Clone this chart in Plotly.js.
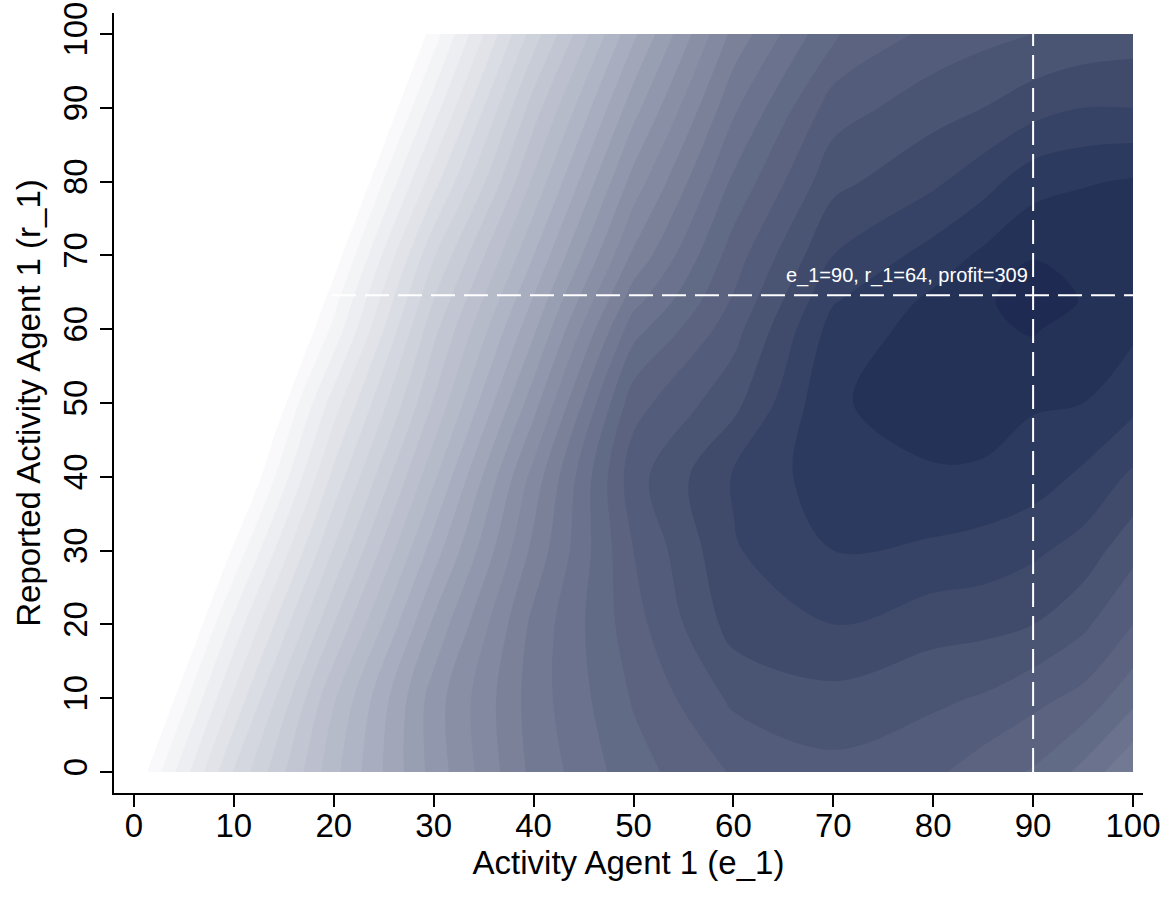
<!DOCTYPE html>
<html>
<head>
<meta charset="utf-8">
<script src="https://cdn.plot.ly/plotly-3.0.1.min.js"></script>
<style>
  html, body { margin: 0; padding: 0; background: #ffffff; }
  #chart { width: 1169px; height: 897px; }
</style>
</head>
<body>
<div id="chart"></div>
<script>
// ---- data ----
const eValues = [0, 10, 20, 30, 40, 50, 60, 70, 80, 85, 90, 95, 100];
const rValues = [0, 10, 20, 30, 40, 50, 60, 64, 70, 80, 90, 100];

const profitR0   = [-9, 61, 117, 164, 203, 226, 241, 247, 242, 235, 229, 217, 201];
const profitR10  = [-28, 42, 109, 165, 205, 231, 252, 257, 252, 249, 243, 237, 223];
const profitR20  = [-47, 23, 90, 152, 203, 236, 264, 270, 264, 263, 260, 252, 240];
const profitR30  = [-66, 2, 71, 135, 193, 240, 269, 280, 278, 276, 272, 266, 253];
const profitR40  = [-85, -20, 53, 118, 184, 246, 271, 286, 289, 288, 285, 278, 268];
const profitR50  = [-104, -36, 35, 101, 166, 236, 257, 289, 294, 296, 291, 290, 283];
const profitR60  = [-123, -55, 13, 87, 148, 216, 246, 284, 294, 298, 301, 295, 292];
const profitR64  = [-131, -62, 6, 80, 141, 206, 241, 279, 292, 297, 309, 299, 294];
const profitR70  = [-142, -74, -6, 69, 130, 192, 235, 270, 284, 292, 299, 300, 296];
const profitR80  = [-161, -93, -25, 46, 112, 174, 222, 257, 268, 276, 286, 289, 291];
const profitR90  = [-180, -112, -44, 25, 95, 156, 208, 245, 256, 260, 266, 270, 270];
const profitR100 = [-199, -131, -63, 5, 75, 138, 193, 229, 243, 247, 250, 253, 255];

// edge of the feasible region (left of it nothing is drawn)
const feasibleEdgeE = [1.3, 29.2];
const feasibleEdgeR = [0, 100];

// optimum marked on the chart
const optE = 90;
const optR = 64.6;
const optProfit = 309;
const optLabel = 'e_1=90, r_1=64, profit=309';

const xTickVals = [0, 10, 20, 30, 40, 50, 60, 70, 80, 90, 100];
const yTickVals = [0, 10, 20, 30, 40, 50, 60, 70, 80, 90, 100];

// ---- build ----
const profitGrid = [profitR0, profitR10, profitR20, profitR30, profitR40, profitR50,
                    profitR60, profitR64, profitR70, profitR80, profitR90, profitR100];

const xRange = [-2, 101];
const yRange = [-2.85, 102.85];

// mask polygon left of the feasible edge, extended to the axis range
const slope = (feasibleEdgeE[1] - feasibleEdgeE[0]) / (feasibleEdgeR[1] - feasibleEdgeR[0]);
const edgeAt = r => feasibleEdgeE[0] + slope * (r - feasibleEdgeR[0]);
const maskX = [xRange[0], edgeAt(yRange[0]), edgeAt(yRange[1]), xRange[0], xRange[0]];
const maskY = [yRange[0], yRange[0], yRange[1], yRange[1], yRange[0]];

const font = 'Liberation Sans, Arial, Helvetica, sans-serif';

const contour = {
  type: 'contour',
  x: eValues,
  y: rValues,
  z: profitGrid,
  autocontour: false,
  contours: { start: 0, end: 300, size: 10, coloring: 'fill', showlines: false },
  line: { width: 0, smoothing: 1 },
  colorscale: [
    [0, '#ffffff'],
    [0.42, '#b0b5c5'],
    [0.806, '#535c7a'],
    [0.968, '#243258'],
    [1, '#1e2a52']
  ],
  showscale: false,
  hoverinfo: 'skip'
};

const mask = {
  type: 'scatter',
  mode: 'lines',
  x: maskX,
  y: maskY,
  fill: 'toself',
  fillcolor: '#ffffff',
  line: { width: 0, color: '#ffffff' },
  hoverinfo: 'skip',
  showlegend: false
};

const eMin = Math.min(...eValues), eMax = Math.max(...eValues);
const rMin = Math.min(...rValues), rMax = Math.max(...rValues);

const layout = {
  width: 1169,
  height: 897,
  margin: { l: 114, r: 26, t: 13, b: 104 },
  paper_bgcolor: '#ffffff',
  plot_bgcolor: '#ffffff',
  showlegend: false,
  font: { family: font, color: '#000000' },
  xaxis: {
    range: xRange,
    tickvals: xTickVals,
    ticks: 'outside', ticklen: 12, tickwidth: 2, tickcolor: '#000000',
    ticklabelstandoff: -10,
    showline: true, linewidth: 2, linecolor: '#000000',
    showgrid: false, zeroline: false,
    tickfont: { size: 33, family: font },
    title: { text: 'Activity Agent 1 (e_1)', font: { size: 33, family: font }, standoff: 0 }
  },
  yaxis: {
    range: yRange,
    tickvals: yTickVals,
    tickangle: -90,
    ticks: 'outside', ticklen: 12, tickwidth: 2, tickcolor: '#000000',
    showline: true, linewidth: 2, linecolor: '#000000',
    showgrid: false, zeroline: false,
    tickfont: { size: 33, family: font },
    title: { text: 'Reported Activity Agent 1 (r_1)', font: { size: 33, family: font }, standoff: 6 }
  },
  shapes: [
    { type: 'line', xref: 'x', yref: 'y', x0: eMin, x1: eMax, y0: optR, y1: optR,
      line: { color: '#ffffff', width: 2, dash: '24px,9px' }, layer: 'above' },
    { type: 'line', xref: 'x', yref: 'y', x0: optE, x1: optE, y0: rMin, y1: rMax,
      line: { color: '#ffffff', width: 2, dash: '24px,9px' }, layer: 'above' }
  ],
  annotations: [
    { x: optE, y: optR, xref: 'x', yref: 'y', text: optLabel, showarrow: false,
      xanchor: 'right', yanchor: 'bottom', xshift: -3, yshift: 6,
      font: { size: 20, color: '#ffffff', family: font } }
  ]
};

Plotly.newPlot('chart', [contour, mask], layout, { staticPlot: true, displayModeBar: false });
</script>
</body>
</html>
